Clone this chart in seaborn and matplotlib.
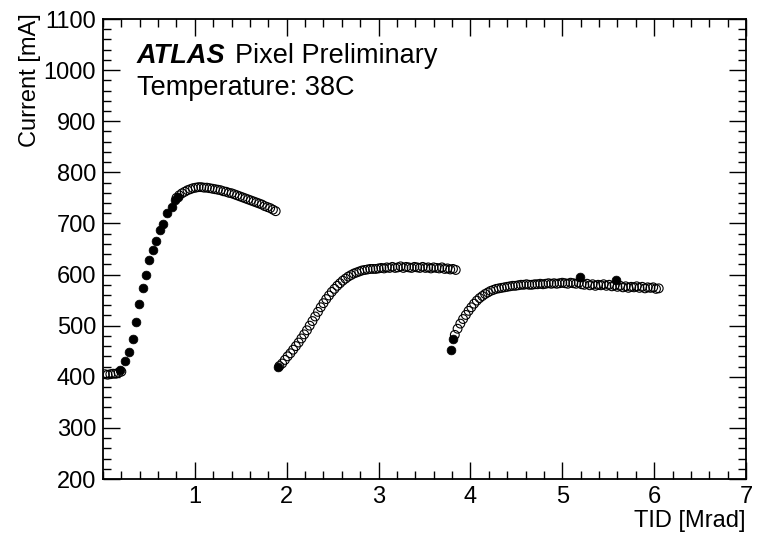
import matplotlib
matplotlib.use("Agg")
import matplotlib.pyplot as plt
from matplotlib.ticker import MultipleLocator
import numpy as np
import pandas as pd
import seaborn as sns

# --- TID scan measurements: hollow markers (dense sampling) ---
tid_open = [
    # first irradiation step
    0.02, 0.05, 0.08, 0.11, 0.14, 0.17, 0.20,
    0.80, 0.83, 0.86, 0.89, 0.92, 0.95, 0.98, 1.01, 1.04, 1.07, 1.10, 1.13,
    1.16, 1.19, 1.22, 1.25, 1.28, 1.31, 1.34, 1.37, 1.40, 1.43, 1.46, 1.49,
    1.52, 1.55, 1.58, 1.61, 1.64, 1.67, 1.70, 1.73, 1.76, 1.79, 1.82, 1.85, 1.88,
    # second step
    1.92, 1.95, 1.98, 2.01, 2.04, 2.07, 2.10, 2.13, 2.16, 2.19, 2.22, 2.25,
    2.28, 2.31, 2.34, 2.37, 2.40, 2.43, 2.46, 2.49, 2.52, 2.55, 2.58, 2.61,
    2.64, 2.67, 2.70, 2.73, 2.76, 2.79, 2.82, 2.85, 2.88, 2.91, 2.94, 2.97,
    3.00, 3.03, 3.06, 3.09, 3.12, 3.15, 3.18, 3.21, 3.24, 3.27, 3.30, 3.33,
    3.36, 3.39, 3.42, 3.45, 3.48, 3.51, 3.54, 3.57, 3.60, 3.63, 3.66, 3.69,
    3.72, 3.75, 3.78, 3.81, 3.84,
    # third step
    3.83, 3.86, 3.89, 3.92, 3.95, 3.98, 4.01, 4.04, 4.07, 4.10, 4.13, 4.16,
    4.19, 4.22, 4.25, 4.28, 4.31, 4.34, 4.37, 4.40, 4.43, 4.46, 4.49, 4.52,
    4.55, 4.58, 4.61, 4.64, 4.67, 4.70, 4.73, 4.76, 4.79, 4.82, 4.85, 4.88,
    4.91, 4.94, 4.97, 5.00, 5.03, 5.06, 5.09, 5.12, 5.15, 5.18, 5.21, 5.24,
    5.27, 5.30, 5.33, 5.36, 5.39, 5.42, 5.45, 5.48, 5.51, 5.54, 5.57, 5.60,
    5.63, 5.66, 5.69, 5.72, 5.75, 5.78, 5.81, 5.84, 5.87, 5.90, 5.93, 5.96,
    5.99, 6.02, 6.05,
]
current_open = [
    405, 404, 405, 406, 406, 408, 410,
    750, 755, 759, 762, 765, 767, 769, 770, 771, 771, 770, 770,
    769, 768, 767, 766, 765, 763, 762, 760, 759, 757, 755, 753,
    751, 749, 747, 745, 743, 741, 739, 737, 734, 732, 730, 727, 724,
    421, 426, 433, 440, 446, 453, 460, 467, 475, 483, 491, 500,
    509, 518, 527, 536, 544, 552, 559, 566, 572, 578, 583, 588,
    592, 596, 599, 602, 604, 606, 608, 609, 610, 611, 611, 611,
    612, 613, 612, 614, 613, 615, 613, 614, 616, 613, 615, 614,
    613, 615, 614, 613, 615, 613, 614, 612, 614, 613, 612, 614,
    611, 612, 610, 611, 609,
    482, 494, 504, 513, 521, 529, 536, 543, 549, 554, 558, 562,
    565, 568, 570, 572, 573, 574, 575, 576, 577, 578, 578, 579,
    580, 580, 581, 580, 580, 581, 581, 582, 581, 582, 583, 582,
    583, 582, 583, 584, 583, 582, 584, 583, 582, 584, 581, 580,
    582, 579, 581, 578, 580, 579, 581, 578, 580, 577, 579, 576,
    578, 575, 577, 574, 576, 575, 577, 574, 576, 573, 575, 574,
    575, 572, 573,
]

# --- filled markers (sparser sampling) ---
tid_filled = [
    0.185, 0.24, 0.283, 0.323, 0.359, 0.395, 0.439, 0.468, 0.504, 0.548,
    0.577, 0.62, 0.656, 0.70, 0.748, 0.784, 0.82,
    1.91, 3.785, 3.81, 5.19, 5.59,
]
current_filled = [
    413, 431, 449, 474, 507, 542, 573, 599, 628, 648,
    665, 687, 699, 720, 733, 746, 752,
    420, 452, 473, 596, 589,
]

x_ticks = [1, 2, 3, 4, 5, 6, 7]
y_ticks = [200, 300, 400, 500, 600, 700, 800, 900, 1000, 1100]

sns.set_theme(style="ticks")
plt.rcParams["font.family"] = ["Liberation Sans", "DejaVu Sans"]
plt.rcParams["text.color"] = "black"
plt.rcParams["axes.labelcolor"] = "black"

df_open = pd.DataFrame({"tid": tid_open, "current": current_open})
df_filled = pd.DataFrame({"tid": tid_filled, "current": current_filled})

W, H = 761, 534
fig = plt.figure(figsize=(W / 100, H / 100), dpi=100)
ax = fig.add_axes([103 / W, 1 - 479 / H, 643 / W, 460 / H])

sns.scatterplot(data=df_open, x="tid", y="current", ax=ax, marker="o",
                s=40, facecolor="none", edgecolor="black", linewidth=0.8,
                legend=False)
sns.scatterplot(data=df_filled, x="tid", y="current", ax=ax, marker="o",
                s=40, color="black", edgecolor="black", linewidth=0.5,
                legend=False)

ax.set_xlim(0, 7)
ax.set_ylim(200, 1100)
ax.set_xticks(x_ticks)
ax.set_yticks(y_ticks)
ax.xaxis.set_minor_locator(MultipleLocator(0.2))
ax.yaxis.set_minor_locator(MultipleLocator(20))
ax.tick_params(which="both", direction="in", top=True, right=True,
               colors="black", labelcolor="black", labelsize=17, pad=5)
ax.tick_params(which="major", length=12, width=1.0)
ax.tick_params(which="minor", length=6, width=1.0)
for s in ax.spines.values():
    s.set_linewidth(1.3)
    s.set_color("black")

ax.set_xlabel("")
ax.set_ylabel("")
fig.text(746 / W, 1 - 527 / H, "TID [Mrad]", ha="right", va="baseline",
         fontsize=17, color="black")
fig.text(36 / W, 1 - 13 / H, "Current [mA]", ha="right", va="baseline",
         rotation=90, rotation_mode="anchor", fontsize=17, color="black")

ax.text(137 / W, 1 - 63 / H, "ATLAS", transform=fig.transFigure,
        fontsize=19.5, fontweight="bold", fontstyle="italic", va="baseline")
ax.text(235 / W, 1 - 63 / H, "Pixel Preliminary", transform=fig.transFigure,
        fontsize=19.5, va="baseline")
ax.text(137 / W, 1 - 95 / H, "Temperature: 38C", transform=fig.transFigure,
        fontsize=19.5, va="baseline")

fig.savefig("out.png", dpi=100)
